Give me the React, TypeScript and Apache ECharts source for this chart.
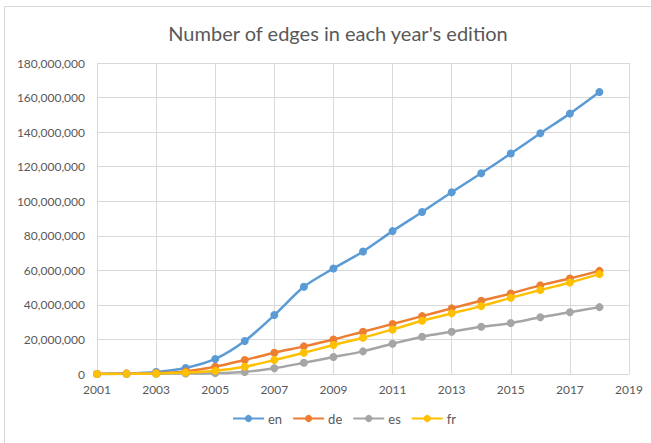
import React, { useEffect, useRef } from "react";
import * as echarts from "echarts";

const years = [2001, 2002, 2003, 2004, 2005, 2006, 2007, 2008, 2009, 2010, 2011, 2012, 2013, 2014, 2015, 2016, 2017, 2018];
const en = [0, 300000, 1200000, 3500000, 8700000, 19100000, 34100000, 50500000, 61100000, 70900000, 82700000, 93800000, 105200000, 116200000, 127600000, 139300000, 150700000, 163200000];
const de = [0, 200000, 500000, 1500000, 4200000, 8100000, 12300000, 16000000, 20000000, 24500000, 28900000, 33500000, 38000000, 42400000, 46600000, 51300000, 55300000, 59700000];
const es = [0, 50000, 150000, 300000, 500000, 1200000, 3300000, 6500000, 9800000, 13100000, 17500000, 21600000, 24500000, 27300000, 29500000, 32800000, 35700000, 38700000];
const fr = [0, 100000, 300000, 800000, 1900000, 4200000, 8100000, 12300000, 16800000, 21000000, 25800000, 30800000, 35100000, 39300000, 44100000, 48600000, 53000000, 57800000];

const seriesDefs = [
  { name: "en", data: en, color: "#5B9BD5" },
  { name: "de", data: de, color: "#ED7D31" },
  { name: "es", data: es, color: "#A5A5A5" },
  { name: "fr", data: fr, color: "#FFC000" },
];

const FONT = "Lato, 'Open Sans', sans-serif";

export default function App() {
  const ref = useRef<HTMLDivElement>(null);
  useEffect(() => {
    if (!ref.current) return;
    const chart = echarts.init(ref.current, undefined, { renderer: "svg" });
    chart.setOption({
      animation: false,
      backgroundColor: "#ffffff",
      title: {
        text: "Number of edges in each year's edition",
        left: 333,
        textAlign: "center",
        top: 18,
        textStyle: { fontFamily: FONT, fontSize: 20, fontWeight: "normal", color: "#595959" },
      },
      graphic: [
        {
          type: "rect",
          shape: { x: 4.5, y: 6.5, width: 700, height: 500 },
          style: { fill: "none", stroke: "#d9d9d9", lineWidth: 1 },
          silent: true,
        },
      ],
      legend: {
        bottom: 13,
        left: 227,
        itemWidth: 31,
        itemHeight: 9,
        itemGap: 10,
        textStyle: { fontFamily: FONT, fontSize: 13, color: "#595959", padding: [0, 0, 0, -1] },
        data: seriesDefs.map((s) => s.name),
      },
      grid: { left: 97, right: 22, top: 63, bottom: 69 },
      xAxis: {
        type: "value",
        min: 2001,
        max: 2019,
        interval: 2,
        axisLine: { show: true, lineStyle: { color: "#d9d9d9" } },
        axisTick: { show: false },
        splitLine: { show: true, lineStyle: { color: "#d9d9d9", width: 1 } },
        axisLabel: {
          fontFamily: FONT,
          fontSize: 12,
          color: "#595959",
          margin: 9,
          formatter: (v: number) => String(v),
        },
      },
      yAxis: {
        type: "value",
        min: 0,
        max: 180000000,
        interval: 20000000,
        axisLine: { show: false },
        axisTick: { show: false },
        splitLine: { show: true, lineStyle: { color: "#d9d9d9", width: 1 } },
        axisLabel: {
          fontFamily: FONT,
          fontSize: 12,
          color: "#595959",
          margin: 12,
          formatter: (v: number) => v.toLocaleString("en-US"),
        },
      },
      series: seriesDefs.map((s) => ({
        name: s.name,
        type: "line",
        data: years.map((y, i) => [y, s.data[i]]),
        smooth: 0.3,
        symbol: "circle",
        symbolSize: 8,
        itemStyle: { color: s.color },
        lineStyle: { color: s.color, width: 2.5 },
      })),
    });
    return () => chart.dispose();
  }, []);
  return (
    <div
      ref={ref}
      style={{ position: "absolute", left: 0, top: 0, width: 651, height: 443 }}
    />
  );
}
